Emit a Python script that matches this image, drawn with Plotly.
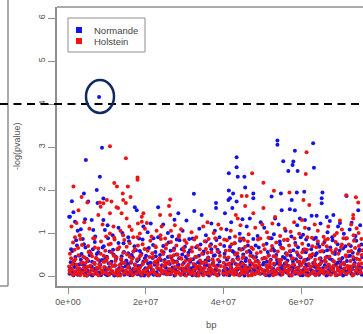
import plotly.graph_objects as go

# ---------------- data (x in Mb, y = -log(pvalue)) ----------------
normande_high = [
    (8.0, 4.16), (8.75, 2.98), (4.6, 2.70), (8.2, 2.31), (7.4, 2.0), (4.1, 1.92), (1.0, 1.74),
    (5.2, 1.73), (9.1, 1.8), (7.6, 1.7), (17.2, 1.6), (1.4, 1.48), (0.5, 1.38), (1.8, 1.26),
    (4.4, 1.32), (3.3, 1.09), (6.1, 1.30), (6.5, 1.07), (9.5, 1.07), (9.1, 1.30), (17.7, 1.53),
    (19.4, 1.15), (23.2, 1.60), (0.3, 1.38),
    (43.4, 2.76), (43.4, 2.53), (41.4, 2.39), (45.4, 2.31), (43.7, 2.31), (45.6, 2.06), (41.4, 1.99),
    (42.5, 1.92), (32.4, 1.91), (41.7, 1.81), (41.3, 1.77), (38.1, 1.70), (43.4, 1.73), (38.1, 1.58),
    (42.3, 1.58), (32.5, 1.51), (28.4, 1.46), (40.4, 1.46), (34.4, 1.42), (30.5, 1.29), (27.4, 1.31),
    (44.9, 1.32), (46.8, 1.34),
    (53.9, 3.15), (53.9, 3.05), (63.1, 3.09), (58.4, 2.91), (55.4, 2.67), (58.0, 2.66), (57.8, 2.58),
    (56.7, 2.44), (59.1, 2.44), (63.3, 2.52), (58.9, 1.94), (60.8, 1.96), (65.5, 1.94), (71.7, 1.86),
    (54.8, 1.92), (47.7, 1.92), (47.7, 1.81), (52.4, 1.85), (57.6, 1.77), (65.3, 1.81), (65.3, 1.69),
    (74.7, 1.53), (55.0, 1.53), (57.1, 1.55), (58.4, 1.53), (68.3, 1.42), (64.0, 1.40), (62.7, 1.40),
    (66.6, 1.37), (61.0, 1.30), (59.7, 1.34), (53.3, 1.34), (73.0, 1.24), (70.0, 1.23),
]
normande_mid = [
    (2.5, 1.05), (11.5, 0.95), (13.0, 1.12), (15.5, 0.90), (20.5, 1.02), (22.0, 0.88), (24.5, 1.20),
    (26.8, 0.92), (29.5, 1.05), (31.2, 0.86), (33.8, 1.10), (35.5, 0.95), (36.9, 1.22), (39.0, 0.90),
    (40.8, 1.08), (42.0, 1.25), (44.2, 0.98), (46.0, 1.15), (48.8, 0.93), (50.5, 1.12), (52.0, 0.88),
    (54.2, 1.20), (56.0, 1.05), (57.5, 0.92), (59.0, 1.18), (60.5, 0.96), (62.0, 1.10), (63.8, 0.89),
    (65.0, 1.22), (66.8, 1.02), (68.0, 0.90), (69.5, 1.15), (71.0, 0.98), (72.5, 1.08), (74.0, 0.93),
    (75.2, 1.18), (3.8, 0.86), (7.0, 0.92), (10.2, 1.18), (14.0, 1.00), (18.3, 0.87), (21.3, 1.22),
    (25.7, 1.00), (28.0, 0.85), (37.8, 1.05), (45.1, 0.87), (49.6, 1.25), (53.0, 0.97), (61.3, 0.85),
    (67.4, 1.28), (73.8, 0.84),
    (0.8, 0.62), (1.5, 0.35), (2.1, 0.83), (2.9, 0.47), (3.4, 0.28), (4.1, 0.74), (4.8, 0.40), (5.5, 0.57),
    (6.2, 0.33), (6.9, 0.79), (7.4, 0.51), (8.2, 0.36), (8.9, 0.66), (9.6, 0.42), (10.3, 0.88), (11.0, 0.30),
    (11.6, 0.61), (12.3, 0.45), (13.0, 0.77), (13.7, 0.38), (14.4, 0.56), (15.1, 0.32), (15.7, 0.81),
    (16.4, 0.49), (17.1, 0.69), (17.8, 0.35), (18.5, 0.58), (19.2, 0.85), (19.8, 0.41), (20.5, 0.63),
    (21.2, 0.31), (21.9, 0.72), (22.6, 0.46), (23.2, 0.90), (23.9, 0.37), (24.6, 0.55), (25.3, 0.29),
    (25.9, 0.78), (26.6, 0.43), (27.3, 0.64), (28.0, 0.34), (28.7, 0.83), (29.4, 0.50), (30.1, 0.68),
    (30.7, 0.39), (31.4, 0.60), (32.1, 0.87), (32.8, 0.44), (33.5, 0.32), (34.1, 0.73), (34.8, 0.52),
    (35.5, 0.80), (36.2, 0.36), (36.9, 0.62), (37.5, 0.47), (38.2, 0.84), (38.9, 0.55), (40.2, 0.70),
    (40.9, 0.38), (41.6, 0.89), (42.3, 0.58), (42.9, 0.76), (43.6, 0.41), (44.3, 0.82), (45.0, 0.63),
    (45.7, 0.35), (46.3, 0.71), (47.0, 0.54), (47.7, 0.86), (48.4, 0.44), (49.1, 0.66), (50.4, 0.31),
    (51.1, 0.75), (51.7, 0.48), (52.4, 0.88), (53.1, 0.59), (53.8, 0.37), (54.5, 0.80), (55.1, 0.65),
    (55.8, 0.42), (56.5, 0.84), (57.2, 0.57), (57.9, 0.33), (58.5, 0.77), (59.2, 0.49), (59.9, 0.90),
    (60.6, 0.61), (61.3, 0.38), (61.9, 0.72), (62.6, 0.45), (63.3, 0.86), (64.0, 0.53), (64.7, 0.68),
    (65.3, 0.34), (66.0, 0.79), (66.7, 0.60), (67.4, 0.40), (68.1, 0.83), (68.7, 0.56), (69.4, 0.74),
    (70.1, 0.36), (70.8, 0.64), (71.5, 0.87), (72.1, 0.46), (72.8, 0.70), (73.5, 0.39), (74.2, 0.82),
    (74.9, 0.58), (75.5, 0.73),
]
normande_low = [
    (0.4, 0.05), (0.7, 0.32), (0.9, 0.12), (1.1, 0.58), (1.4, 0.02), (1.6, 0.21), (1.9, 0.44), (2.0, 0.09),
    (2.3, 0.71), (2.6, 0.16), (2.8, 0.27), (3.0, 0.04), (3.3, 0.38), (3.5, 0.51), (3.7, 0.13), (4.0, 0.07),
    (4.2, 0.25), (4.5, 0.66), (4.7, 0.19), (4.9, 0.01), (5.2, 0.35), (5.4, 0.10), (5.6, 0.48), (5.9, 0.03),
    (6.1, 0.22), (6.4, 0.62), (6.6, 0.14), (6.8, 0.30), (7.1, 0.06), (7.3, 0.41), (7.6, 0.18), (7.8, 0.55),
    (8.0, 0.08), (8.3, 0.26), (8.5, 0.02), (8.8, 0.37), (9.0, 0.12), (9.2, 0.69), (9.5, 0.20), (9.7, 0.04),
    (10.0, 0.45), (10.2, 0.15), (10.5, 0.29), (10.7, 0.57), (10.9, 0.07), (11.2, 0.33), (11.4, 0.11),
    (11.7, 0.50), (11.9, 0.01), (12.1, 0.24), (12.4, 0.40), (12.6, 0.09), (12.9, 0.63), (13.1, 0.17),
    (13.3, 0.05), (13.6, 0.28), (13.8, 0.46), (14.1, 0.13), (14.3, 0.76), (14.5, 0.03), (14.8, 0.22),
    (15.0, 0.36), (15.3, 0.08), (15.5, 0.53), (15.8, 0.19), (16.0, 0.02), (16.2, 0.31), (16.5, 0.12),
    (16.7, 0.43), (17.0, 0.06), (17.2, 0.27), (17.5, 0.60), (17.7, 0.15), (17.9, 0.04), (18.2, 0.39),
    (18.4, 0.10), (18.7, 0.23), (18.9, 0.52), (19.1, 0.07), (19.4, 0.34), (19.6, 0.01), (19.9, 0.18),
    (20.1, 0.47), (20.4, 0.11), (20.6, 0.29), (20.8, 0.65), (21.1, 0.05), (21.3, 0.21), (21.6, 0.14),
    (21.8, 0.42), (22.0, 0.03), (22.3, 0.26), (22.5, 0.56), (22.8, 0.09), (23.0, 0.32), (23.3, 0.16),
    (23.5, 0.02), (23.7, 0.49), (24.0, 0.12), (24.2, 0.25), (24.5, 0.70), (24.7, 0.06), (24.9, 0.37),
    (25.2, 0.19), (25.4, 0.04), (25.7, 0.44), (25.9, 0.13), (26.2, 0.28), (26.4, 0.59), (26.6, 0.08),
    (26.9, 0.20), (27.1, 0.35), (27.4, 0.01), (27.6, 0.15), (27.9, 0.50), (28.1, 0.10), (28.3, 0.24),
    (28.6, 0.41), (28.8, 0.05), (29.1, 0.17), (29.3, 0.62), (29.6, 0.11), (29.8, 0.30), (30.0, 0.03),
    (30.3, 0.45), (30.5, 0.14), (30.8, 0.22), (31.0, 0.54), (31.3, 0.07), (31.5, 0.33), (31.7, 0.18),
    (32.0, 0.02), (32.2, 0.39), (32.5, 0.12), (32.7, 0.27), (33.0, 0.67), (33.2, 0.06), (33.4, 0.21),
    (33.7, 0.47), (33.9, 0.09), (34.2, 0.31), (34.4, 0.15), (34.6, 0.04), (34.9, 0.57), (35.1, 0.19),
    (35.4, 0.36), (35.6, 0.08), (35.9, 0.25), (36.1, 0.43), (36.3, 0.01), (36.6, 0.13), (36.8, 0.74),
    (37.1, 0.10), (37.3, 0.29), (37.6, 0.05), (37.8, 0.48), (38.0, 0.16), (38.3, 0.23), (38.5, 0.61),
    (38.8, 0.03), (39.0, 0.34), (40.0, 0.12), (40.3, 0.52), (40.5, 0.07), (40.7, 0.26), (41.0, 0.40),
    (41.2, 0.14), (41.5, 0.02), (41.7, 0.68), (42.0, 0.20), (42.2, 0.09), (42.4, 0.37), (42.7, 0.55),
    (42.9, 0.11), (43.2, 0.28), (43.4, 0.04), (43.7, 0.45), (43.9, 0.17), (44.1, 0.63), (44.4, 0.06),
    (44.6, 0.32), (44.9, 0.13), (45.1, 0.50), (45.4, 0.01), (45.6, 0.24), (45.8, 0.41), (46.1, 0.08),
    (46.3, 0.19), (46.6, 0.58), (46.8, 0.12), (47.1, 0.30), (47.3, 0.03), (47.5, 0.46), (47.8, 0.15),
    (48.0, 0.22), (48.3, 0.71), (48.5, 0.07), (48.8, 0.35), (49.0, 0.10), (49.2, 0.18), (49.5, 0.05),
    (50.2, 0.27), (50.5, 0.42), (50.7, 0.13), (51.0, 0.02), (51.2, 0.33), (51.4, 0.56), (51.7, 0.09),
    (51.9, 0.21), (52.2, 0.38), (52.4, 0.04), (52.7, 0.64), (52.9, 0.16), (53.1, 0.26), (53.4, 0.11),
    (53.6, 0.49), (53.9, 0.06), (54.1, 0.31), (54.4, 0.18), (54.6, 0.73), (54.8, 0.03), (55.1, 0.23),
    (55.3, 0.44), (55.6, 0.12), (55.8, 0.29), (56.1, 0.53), (56.3, 0.08), (56.5, 0.36), (56.8, 0.14),
    (57.0, 0.01), (57.3, 0.47), (57.5, 0.20), (57.8, 0.10), (58.0, 0.60), (58.2, 0.25), (58.5, 0.05),
    (58.7, 0.39), (59.0, 0.15), (59.2, 0.67), (59.5, 0.07), (59.7, 0.28), (59.9, 0.43), (60.2, 0.12),
    (60.4, 0.02), (60.7, 0.34), (60.9, 0.19), (61.2, 0.55), (61.4, 0.09), (61.6, 0.24), (61.9, 0.40),
    (62.1, 0.04), (62.4, 0.16), (62.6, 0.62), (62.9, 0.11), (63.1, 0.30), (63.3, 0.06), (63.6, 0.48),
    (63.8, 0.21), (64.1, 0.13), (64.3, 0.75), (64.6, 0.03), (64.8, 0.27), (65.0, 0.41), (65.3, 0.08),
    (65.5, 0.18), (65.8, 0.57), (66.0, 0.10), (66.3, 0.33), (66.5, 0.01), (66.7, 0.45), (67.0, 0.14),
    (67.2, 0.23), (67.5, 0.66), (67.7, 0.05), (68.0, 0.37), (68.2, 0.17), (68.4, 0.09), (68.7, 0.51),
    (68.9, 0.26), (69.2, 0.02), (69.4, 0.31), (69.7, 0.12), (69.9, 0.59), (70.1, 0.20), (70.4, 0.07),
    (70.6, 0.42), (70.9, 0.15), (71.1, 0.28), (71.4, 0.69), (71.6, 0.04), (71.8, 0.35), (72.1, 0.11),
    (72.3, 0.22), (72.6, 0.47), (72.8, 0.08), (73.1, 0.16), (73.3, 0.54), (73.5, 0.03), (73.8, 0.30),
    (74.0, 0.13), (74.3, 0.40), (74.5, 0.06), (74.8, 0.25), (75.0, 0.61), (75.2, 0.10), (75.5, 0.19),
    (75.7, 0.44),
    (0.6, 0.18), (1.2, 0.08), (1.8, 0.26), (2.5, 0.03), (3.1, 0.15), (3.8, 0.29), (4.4, 0.06), (5.0, 0.12),
    (5.7, 0.22), (6.3, 0.01), (6.9, 0.17), (7.5, 0.09), (8.1, 0.28), (8.7, 0.05), (9.4, 0.14), (10.1, 0.02),
    (10.6, 0.20), (11.3, 0.07), (12.0, 0.25), (12.7, 0.11), (13.4, 0.03), (14.0, 0.19), (14.7, 0.08),
    (15.4, 0.27), (16.1, 0.04), (16.8, 0.16), (17.4, 0.10), (18.1, 0.23), (18.8, 0.01), (19.5, 0.13),
    (20.2, 0.06), (20.9, 0.21), (21.5, 0.09), (22.2, 0.30), (22.9, 0.02), (23.6, 0.15), (24.3, 0.07),
    (25.0, 0.24), (25.6, 0.11), (26.3, 0.04), (27.0, 0.18), (27.7, 0.08), (28.4, 0.26), (29.0, 0.03),
    (29.7, 0.14), (30.4, 0.20), (31.1, 0.05), (31.8, 0.12), (32.4, 0.22), (33.1, 0.01), (33.8, 0.16),
    (34.5, 0.09), (35.2, 0.27), (35.8, 0.04), (36.5, 0.19), (37.2, 0.07), (37.9, 0.13), (38.6, 0.25),
    (40.1, 0.03), (40.8, 0.17), (41.4, 0.10), (42.1, 0.28), (42.8, 0.06), (43.5, 0.14), (44.2, 0.02),
    (44.8, 0.21), (45.5, 0.08), (46.2, 0.15), (46.9, 0.26), (47.6, 0.04), (48.2, 0.11), (48.9, 0.19),
    (50.4, 0.06), (51.1, 0.23), (51.8, 0.01), (52.5, 0.13), (53.2, 0.09), (53.8, 0.29), (54.5, 0.05),
    (55.2, 0.16), (55.9, 0.11), (56.6, 0.24), (57.2, 0.03), (57.9, 0.18), (58.6, 0.08), (59.3, 0.20),
    (59.9, 0.02), (60.6, 0.14), (61.3, 0.27), (62.0, 0.06), (62.7, 0.12), (63.4, 0.22), (64.0, 0.04),
    (64.7, 0.17), (65.4, 0.09), (66.1, 0.25), (66.8, 0.03), (67.4, 0.13), (68.1, 0.20), (68.8, 0.07),
    (69.5, 0.15), (70.2, 0.28), (70.8, 0.01), (71.5, 0.11), (72.2, 0.19), (72.9, 0.05), (73.6, 0.23),
    (74.2, 0.10), (74.9, 0.16), (75.6, 0.03),
]

holstein_high = [
    (10.8, 3.02), (14.9, 2.74), (17.9, 2.29), (17.9, 2.24), (1.4, 2.08), (11.9, 2.16), (12.6, 2.08),
    (15.4, 2.08), (14.1, 1.92), (3.5, 1.84), (16.1, 1.84), (11.2, 1.73), (14.2, 1.77), (8.4, 1.61),
    (12.5, 1.6), (2.7, 1.53), (9.1, 1.69), (7.8, 1.42), (10.8, 1.46), (12.9, 1.58), (13.8, 1.46),
    (15.1, 1.34), (19.0, 1.26), (20.3, 1.23), (0.9, 1.15), (2.2, 1.23), (11.7, 1.15), (16.4, 1.07),
    (10.8, 0.99), (14.2, 0.95), (18.5, 0.99), (5.0, 1.71), (8.2, 1.71), (10.0, 1.77), (14.9, 1.70),
    (19.4, 1.46), (19.0, 1.38), (23.7, 1.42),
    (47.4, 2.39), (44.7, 1.86), (46.0, 1.86), (26.3, 1.78), (26.0, 1.63), (45.6, 1.63), (26.3, 1.42),
    (43.2, 1.42), (43.7, 1.34), (24.1, 1.15), (29.1, 1.09),
    (61.4, 2.88), (61.2, 2.37), (50.3, 2.17), (53.0, 1.98), (57.0, 1.94), (60.6, 1.77), (62.1, 1.65),
    (74.1, 1.83), (74.7, 1.71), (73.4, 1.42), (73.4, 1.34), (50.3, 1.58), (47.7, 1.46), (53.3, 1.37),
    (60.2, 1.30), (70.0, 1.29), (74.3, 1.11), (71.6, 1.88),
]
holstein_mid = [
    (3.0, 0.95), (5.5, 1.10), (6.8, 0.88), (8.9, 1.20), (12.0, 0.85), (13.5, 1.05), (16.8, 0.90),
    (19.8, 1.10), (21.5, 0.92), (22.8, 1.05), (25.0, 0.87), (27.5, 1.18), (28.6, 0.95), (30.0, 0.83),
    (31.8, 1.02), (33.0, 0.90), (34.8, 1.15), (36.2, 0.86), (37.5, 1.00), (38.7, 1.20), (40.2, 0.85),
    (41.9, 1.05), (43.0, 0.92), (44.4, 1.18), (46.5, 0.97), (48.2, 1.12), (49.5, 0.87), (51.2, 1.02),
    (52.6, 1.22), (54.6, 0.93), (55.8, 1.10), (56.5, 0.85), (58.2, 1.25), (59.5, 0.98), (61.0, 1.12),
    (62.8, 0.89), (64.3, 1.05), (65.8, 0.91), (67.0, 1.15), (68.6, 0.95), (70.5, 1.08), (71.8, 0.88),
    (72.9, 1.20), (74.8, 1.00), (75.5, 0.86), (1.8, 0.90), (4.2, 1.25), (9.8, 0.92), (15.8, 1.15),
    (18.0, 1.22), (23.8, 0.95), (26.5, 1.05), (35.9, 1.25), (39.4, 1.10), (45.3, 0.84), (50.0, 1.20),
    (57.3, 1.03), (63.5, 1.20), (66.2, 0.84), (69.2, 1.00), (73.5, 0.95),
    (0.5, 0.52), (1.3, 0.78), (1.9, 0.39), (2.6, 0.65), (3.2, 0.86), (3.9, 0.45), (4.5, 0.30), (5.2, 0.70),
    (5.9, 0.53), (6.5, 0.88), (7.2, 0.42), (7.8, 0.64), (8.5, 0.80), (9.2, 0.47), (9.9, 0.36), (10.5, 0.73),
    (11.2, 0.55), (11.9, 0.89), (12.5, 0.43), (13.2, 0.67), (13.9, 0.32), (14.5, 0.84), (15.2, 0.50),
    (15.9, 0.76), (16.5, 0.40), (17.2, 0.63), (17.9, 0.90), (18.5, 0.46), (19.2, 0.74), (19.9, 0.35),
    (20.5, 0.59), (21.2, 0.82), (21.9, 0.44), (22.5, 0.69), (23.2, 0.38), (23.9, 0.86), (24.5, 0.51),
    (25.2, 0.64), (25.9, 0.33), (26.5, 0.79), (27.2, 0.48), (27.9, 0.71), (28.5, 0.90), (29.2, 0.40),
    (29.9, 0.58), (30.5, 0.77), (31.2, 0.36), (31.9, 0.66), (32.5, 0.85), (33.2, 0.45), (33.9, 0.62),
    (34.5, 0.31), (35.2, 0.81), (35.9, 0.54), (36.5, 0.70), (37.2, 0.39), (37.9, 0.88), (38.5, 0.57),
    (39.2, 0.74), (40.3, 0.44), (40.9, 0.83), (41.6, 0.60), (42.3, 0.35), (42.9, 0.76), (43.6, 0.53),
    (44.3, 0.87), (44.9, 0.42), (45.6, 0.68), (46.3, 0.80), (46.9, 0.47), (47.6, 0.63), (48.3, 0.34),
    (48.9, 0.85), (49.6, 0.56), (50.3, 0.72), (50.9, 0.41), (51.6, 0.89), (52.3, 0.60), (52.9, 0.46),
    (53.6, 0.78), (54.3, 0.37), (54.9, 0.66), (55.6, 0.84), (56.3, 0.52), (56.9, 0.71), (57.6, 0.40),
    (58.3, 0.87), (58.9, 0.55), (59.6, 0.33), (60.3, 0.75), (60.9, 0.62), (61.6, 0.90), (62.3, 0.48),
    (62.9, 0.69), (63.6, 0.38), (64.3, 0.81), (64.9, 0.57), (65.6, 0.74), (66.3, 0.43), (66.9, 0.86),
    (67.6, 0.61), (68.3, 0.35), (68.9, 0.79), (69.6, 0.52), (70.3, 0.67), (70.9, 0.88), (71.6, 0.45),
    (72.3, 0.73), (72.9, 0.58), (73.6, 0.82), (74.3, 0.40), (74.9, 0.70), (75.6, 0.49),
]
holstein_low = [
    (0.3, 0.22), (0.5, 0.08), (0.8, 0.41), (1.0, 0.15), (1.2, 0.03), (1.5, 0.34), (1.7, 0.61), (1.9, 0.11),
    (2.2, 0.26), (2.4, 0.05), (2.7, 0.48), (2.9, 0.18), (3.1, 0.02), (3.4, 0.30), (3.6, 0.72), (3.8, 0.09),
    (4.1, 0.20), (4.3, 0.43), (4.6, 0.13), (4.8, 0.01), (5.0, 0.37), (5.3, 0.56), (5.5, 0.07), (5.7, 0.24),
    (6.0, 0.14), (6.2, 0.46), (6.5, 0.04), (6.7, 0.31), (6.9, 0.66), (7.2, 0.10), (7.4, 0.19), (7.7, 0.38),
    (7.9, 0.02), (8.1, 0.27), (8.4, 0.52), (8.6, 0.12), (8.9, 0.06), (9.1, 0.33), (9.3, 0.21), (9.6, 0.59),
    (9.8, 0.08), (10.1, 0.42), (10.3, 0.16), (10.6, 0.03), (10.8, 0.29), (11.0, 0.75), (11.3, 0.11),
    (11.5, 0.23), (11.8, 0.47), (12.0, 0.05), (12.2, 0.35), (12.5, 0.14), (12.7, 0.62), (13.0, 0.09),
    (13.2, 0.25), (13.4, 0.01), (13.7, 0.40), (13.9, 0.17), (14.2, 0.54), (14.4, 0.07), (14.6, 0.30),
    (14.9, 0.12), (15.1, 0.68), (15.4, 0.04), (15.6, 0.22), (15.9, 0.45), (16.1, 0.10), (16.3, 0.33),
    (16.6, 0.02), (16.8, 0.57), (17.1, 0.15), (17.3, 0.26), (17.6, 0.06), (17.8, 0.39), (18.0, 0.71),
    (18.3, 0.13), (18.5, 0.20), (18.8, 0.49), (19.0, 0.03), (19.2, 0.28), (19.5, 0.11), (19.7, 0.63),
    (20.0, 0.08), (20.2, 0.36), (20.5, 0.18), (20.7, 0.01), (21.0, 0.44), (21.2, 0.24), (21.4, 0.09),
    (21.7, 0.53), (21.9, 0.14), (22.2, 0.31), (22.4, 0.05), (22.6, 0.67), (22.9, 0.19), (23.1, 0.27),
    (23.4, 0.02), (23.6, 0.41), (23.9, 0.12), (24.1, 0.58), (24.3, 0.07), (24.6, 0.23), (24.8, 0.34),
    (25.1, 0.10), (25.3, 0.73), (25.5, 0.04), (25.8, 0.29), (26.0, 0.16), (26.3, 0.46), (26.5, 0.06),
    (26.8, 0.37), (27.0, 0.13), (27.2, 0.60), (27.5, 0.21), (27.7, 0.03), (28.0, 0.32), (28.2, 0.50),
    (28.5, 0.09), (28.7, 0.18), (28.9, 0.42), (29.2, 0.05), (29.4, 0.26), (29.7, 0.65), (29.9, 0.11),
    (30.2, 0.35), (30.4, 0.01), (30.6, 0.22), (30.9, 0.48), (31.1, 0.14), (31.4, 0.07), (31.6, 0.39),
    (31.9, 0.57), (32.1, 0.10), (32.3, 0.28), (32.6, 0.03), (32.8, 0.44), (33.1, 0.17), (33.3, 0.70),
    (33.6, 0.08), (33.8, 0.24), (34.0, 0.36), (34.3, 0.12), (34.5, 0.52), (34.8, 0.02), (35.0, 0.30),
    (35.2, 0.19), (35.5, 0.63), (35.7, 0.06), (36.0, 0.41), (36.2, 0.15), (36.5, 0.25), (36.7, 0.04),
    (36.9, 0.55), (37.2, 0.13), (37.4, 0.33), (37.7, 0.09), (37.9, 0.68), (38.2, 0.20), (38.4, 0.01),
    (38.6, 0.38), (38.9, 0.11), (39.1, 0.47), (39.3, 0.23), (39.9, 0.06), (40.1, 0.31), (40.4, 0.16),
    (40.6, 0.59), (40.9, 0.03), (41.1, 0.27), (41.3, 0.43), (41.6, 0.10), (41.8, 0.21), (42.1, 0.74),
    (42.3, 0.05), (42.6, 0.34), (42.8, 0.14), (43.0, 0.50), (43.3, 0.08), (43.5, 0.26), (43.8, 0.39),
    (44.0, 0.02), (44.3, 0.18), (44.5, 0.61), (44.7, 0.12), (45.0, 0.29), (45.2, 0.45), (45.5, 0.07),
    (45.7, 0.22), (46.0, 0.56), (46.2, 0.15), (46.4, 0.01), (46.7, 0.36), (46.9, 0.19), (47.2, 0.66),
    (47.4, 0.09), (47.6, 0.28), (47.9, 0.42), (48.1, 0.04), (48.4, 0.24), (48.6, 0.53), (48.9, 0.13),
    (49.1, 0.32), (49.3, 0.06), (49.6, 0.17), (50.0, 0.40), (50.3, 0.11), (50.6, 0.62), (50.8, 0.03),
    (51.1, 0.25), (51.3, 0.14), (51.6, 0.47), (51.8, 0.08), (52.0, 0.35), (52.3, 0.20), (52.5, 0.70),
    (52.8, 0.02), (53.0, 0.29), (53.2, 0.12), (53.5, 0.44), (53.7, 0.06), (54.0, 0.57), (54.2, 0.16),
    (54.5, 0.26), (54.7, 0.10), (54.9, 0.38), (55.2, 0.04), (55.4, 0.64), (55.7, 0.21), (55.9, 0.13),
    (56.2, 0.31), (56.4, 0.49), (56.6, 0.07), (56.9, 0.23), (57.1, 0.58), (57.4, 0.15), (57.6, 0.01),
    (57.9, 0.41), (58.1, 0.27), (58.3, 0.09), (58.6, 0.72), (58.8, 0.18), (59.1, 0.34), (59.3, 0.05),
    (59.6, 0.46), (59.8, 0.12), (60.0, 0.25), (60.3, 0.55), (60.5, 0.08), (60.8, 0.37), (61.0, 0.19),
    (61.3, 0.03), (61.5, 0.61), (61.7, 0.14), (62.0, 0.28), (62.2, 0.43), (62.5, 0.06), (62.7, 0.22),
    (63.0, 0.51), (63.2, 0.11), (63.4, 0.32), (63.7, 0.02), (63.9, 0.67), (64.2, 0.17), (64.4, 0.24),
    (64.7, 0.40), (64.9, 0.09), (65.1, 0.30), (65.4, 0.58), (65.6, 0.13), (65.9, 0.05), (66.1, 0.36),
    (66.4, 0.20), (66.6, 0.69), (66.8, 0.10), (67.1, 0.27), (67.3, 0.45), (67.6, 0.03), (67.8, 0.16),
    (68.1, 0.54), (68.3, 0.12), (68.5, 0.33), (68.8, 0.07), (69.0, 0.62), (69.3, 0.21), (69.5, 0.14),
    (69.8, 0.39), (70.0, 0.04), (70.2, 0.26), (70.5, 0.73), (70.7, 0.11), (71.0, 0.31), (71.2, 0.18),
    (71.5, 0.48), (71.7, 0.06), (71.9, 0.23), (72.2, 0.57), (72.4, 0.09), (72.7, 0.35), (72.9, 0.15),
    (73.2, 0.01), (73.4, 0.44), (73.6, 0.27), (73.9, 0.65), (74.1, 0.12), (74.4, 0.20), (74.6, 0.52),
    (74.9, 0.07), (75.1, 0.38), (75.3, 0.16), (75.6, 0.29), (75.8, 0.60),
    (0.4, 0.13), (1.1, 0.27), (1.7, 0.05), (2.4, 0.18), (3.0, 0.10), (3.7, 0.31), (4.3, 0.02), (5.0, 0.21),
    (5.6, 0.08), (6.3, 0.15), (6.9, 0.28), (7.6, 0.04), (8.2, 0.19), (8.9, 0.12), (9.5, 0.33), (10.2, 0.06),
    (10.8, 0.17), (11.5, 0.09), (12.1, 0.25), (12.8, 0.01), (13.4, 0.14), (14.1, 0.30), (14.7, 0.07),
    (15.4, 0.20), (16.0, 0.11), (16.7, 0.03), (17.3, 0.24), (18.0, 0.16), (18.6, 0.08), (19.3, 0.29),
    (19.9, 0.13), (20.6, 0.05), (21.2, 0.22), (21.9, 0.10), (22.5, 0.34), (23.2, 0.02), (23.8, 0.18),
    (24.5, 0.12), (25.1, 0.26), (25.8, 0.06), (26.4, 0.15), (27.1, 0.31), (27.7, 0.09), (28.4, 0.20),
    (29.0, 0.03), (29.7, 0.17), (30.3, 0.11), (31.0, 0.27), (31.6, 0.05), (32.3, 0.14), (32.9, 0.23),
    (33.6, 0.01), (34.2, 0.19), (34.9, 0.10), (35.5, 0.32), (36.2, 0.07), (36.8, 0.16), (37.5, 0.25),
    (38.1, 0.04), (38.8, 0.13), (40.2, 0.21), (40.8, 0.08), (41.5, 0.29), (42.1, 0.12), (42.8, 0.03),
    (43.4, 0.18), (44.1, 0.26), (44.7, 0.06), (45.4, 0.15), (46.0, 0.10), (46.7, 0.33), (47.3, 0.02),
    (48.0, 0.20), (48.6, 0.09), (49.3, 0.24), (50.1, 0.14), (50.7, 0.05), (51.4, 0.19), (52.0, 0.28),
    (52.7, 0.11), (53.3, 0.04), (54.0, 0.17), (54.6, 0.30), (55.3, 0.08), (55.9, 0.22), (56.6, 0.13),
    (57.2, 0.03), (57.9, 0.26), (58.5, 0.10), (59.2, 0.18), (59.8, 0.06), (60.5, 0.31), (61.1, 0.14),
    (61.8, 0.01), (62.4, 0.21), (63.1, 0.09), (63.7, 0.27), (64.4, 0.05), (65.0, 0.16), (65.7, 0.12),
    (66.3, 0.34), (67.0, 0.07), (67.6, 0.19), (68.3, 0.24), (68.9, 0.02), (69.6, 0.15), (70.2, 0.10),
    (70.9, 0.29), (71.5, 0.06), (72.2, 0.17), (72.8, 0.22), (73.5, 0.04), (74.1, 0.13), (74.8, 0.28),
    (75.4, 0.08),
]

series_names = ["Normande", "Holstein"]
series_colors = ["#1414e8", "#ee1414"]
x_tickvals = [0, 2e7, 4e7, 6e7]
x_ticktext = ["0e+00", "2e+07", "4e+07", "6e+07"]
y_tickvals = [0, 1, 2, 3, 4, 5, 6]
threshold = 4

# ---------------- figure ----------------
fig = go.Figure()

for name, color, pts in [
    ("Normande", series_colors[0], normande_low + normande_mid + normande_high),
    ("Holstein", series_colors[1], holstein_low + holstein_mid + holstein_high),
]:
    fig.add_trace(go.Scatter(
        x=[p[0] * 1e6 for p in pts], y=[p[1] for p in pts],
        mode="markers", name=name, showlegend=False,
        marker=dict(color=color, size=4, line=dict(width=0)),
    ))

W, H = 363, 334
L, R, T, B = 57, 0, 7, 48
pw, ph = W - L - R, H - T - B
Y_MIN, Y_MAX = -0.2326, 6.256


def px(xp):
    return (xp - L) / pw


def py(yp):
    return (H - B - yp) / ph


tick_font = dict(family="Liberation Sans, Arial, sans-serif", size=9, color="#555555")
grey = "#8f8f8f"

fig.update_layout(
    width=W, height=H,
    margin=dict(l=L, r=R, t=T, b=B),
    paper_bgcolor="white", plot_bgcolor="white",
    showlegend=False,
    xaxis=dict(
        range=[-2.83e6, 75.93e6], tickvals=x_tickvals, ticktext=x_ticktext,
        ticks="outside", ticklen=6, tickcolor=grey, tickwidth=1,
        showgrid=False, zeroline=False, showline=True, linecolor=grey, linewidth=1.5,
        tickfont=tick_font,
    ),
    yaxis=dict(
        range=[Y_MIN, Y_MAX], tickvals=y_tickvals, tickangle=-90,
        ticks="outside", ticklen=7, tickcolor=grey, tickwidth=1,
        showgrid=False, zeroline=False, showline=True, linecolor=grey, linewidth=1.5,
        tickfont=tick_font,
    ),
)

thr_paper = (threshold - Y_MIN) / (Y_MAX - Y_MIN)
shapes = [
    # top border of plot box
    dict(type="line", xref="paper", yref="paper", x0=0, x1=1, y0=1, y1=1,
         line=dict(color=grey, width=1.5)),
    # neighbouring panel edge on the left
    dict(type="line", xref="paper", yref="paper", x0=px(8), x1=px(8), y0=0, y1=py(-2),
         line=dict(color=grey, width=1.5)),
    dict(type="line", xref="paper", yref="paper", x0=px(-2), x1=px(8), y0=0, y1=0,
         line=dict(color=grey, width=1.5)),
    # significance threshold
    dict(type="line", xref="paper", yref="paper", x0=px(0), x1=1, y0=thr_paper, y1=thr_paper,
         line=dict(color="black", width=2, dash="8px,5.5px")),
    # highlight circle
    dict(type="circle", xref="paper", yref="paper", x0=px(86), x1=px(114), y0=py(113), y1=py(80),
         line=dict(color="#0f2a60", width=2.5)),
    # legend box
    dict(type="rect", xref="paper", yref="paper", x0=px(68), x1=px(145), y0=py(52), y1=py(18),
         line=dict(color=grey, width=1), fillcolor="white", layer="above"),
    dict(type="rect", xref="paper", yref="paper", x0=px(76), x1=px(82), y0=py(33), y1=py(27),
         line=dict(width=0), fillcolor=series_colors[0], layer="above"),
    dict(type="rect", xref="paper", yref="paper", x0=px(76), x1=px(82), y0=py(44), y1=py(38),
         line=dict(width=0), fillcolor=series_colors[1], layer="above"),
]
fig.update_layout(shapes=shapes)

ann_font = dict(family="Liberation Sans, Arial, sans-serif", size=9.5, color="#444444")
fig.update_layout(annotations=[
    dict(text=series_names[0], xref="paper", yref="paper", x=px(92), y=py(30),
         xanchor="left", yanchor="middle", showarrow=False, font=ann_font),
    dict(text=series_names[1], xref="paper", yref="paper", x=px(92), y=py(41),
         xanchor="left", yanchor="middle", showarrow=False, font=ann_font),
    dict(text="-log(pvalue)", xref="paper", yref="paper", x=px(17), y=py(146), textangle=-90,
         xanchor="center", yanchor="middle", showarrow=False,
         font=dict(family="Liberation Sans, Arial, sans-serif", size=9, color="#555555")),
    dict(text="bp", xref="paper", yref="paper", x=px(211), y=py(325),
         xanchor="center", yanchor="middle", showarrow=False,
         font=dict(family="Liberation Sans, Arial, sans-serif", size=9.5, color="#555555")),
])

fig.write_html("out.html")
